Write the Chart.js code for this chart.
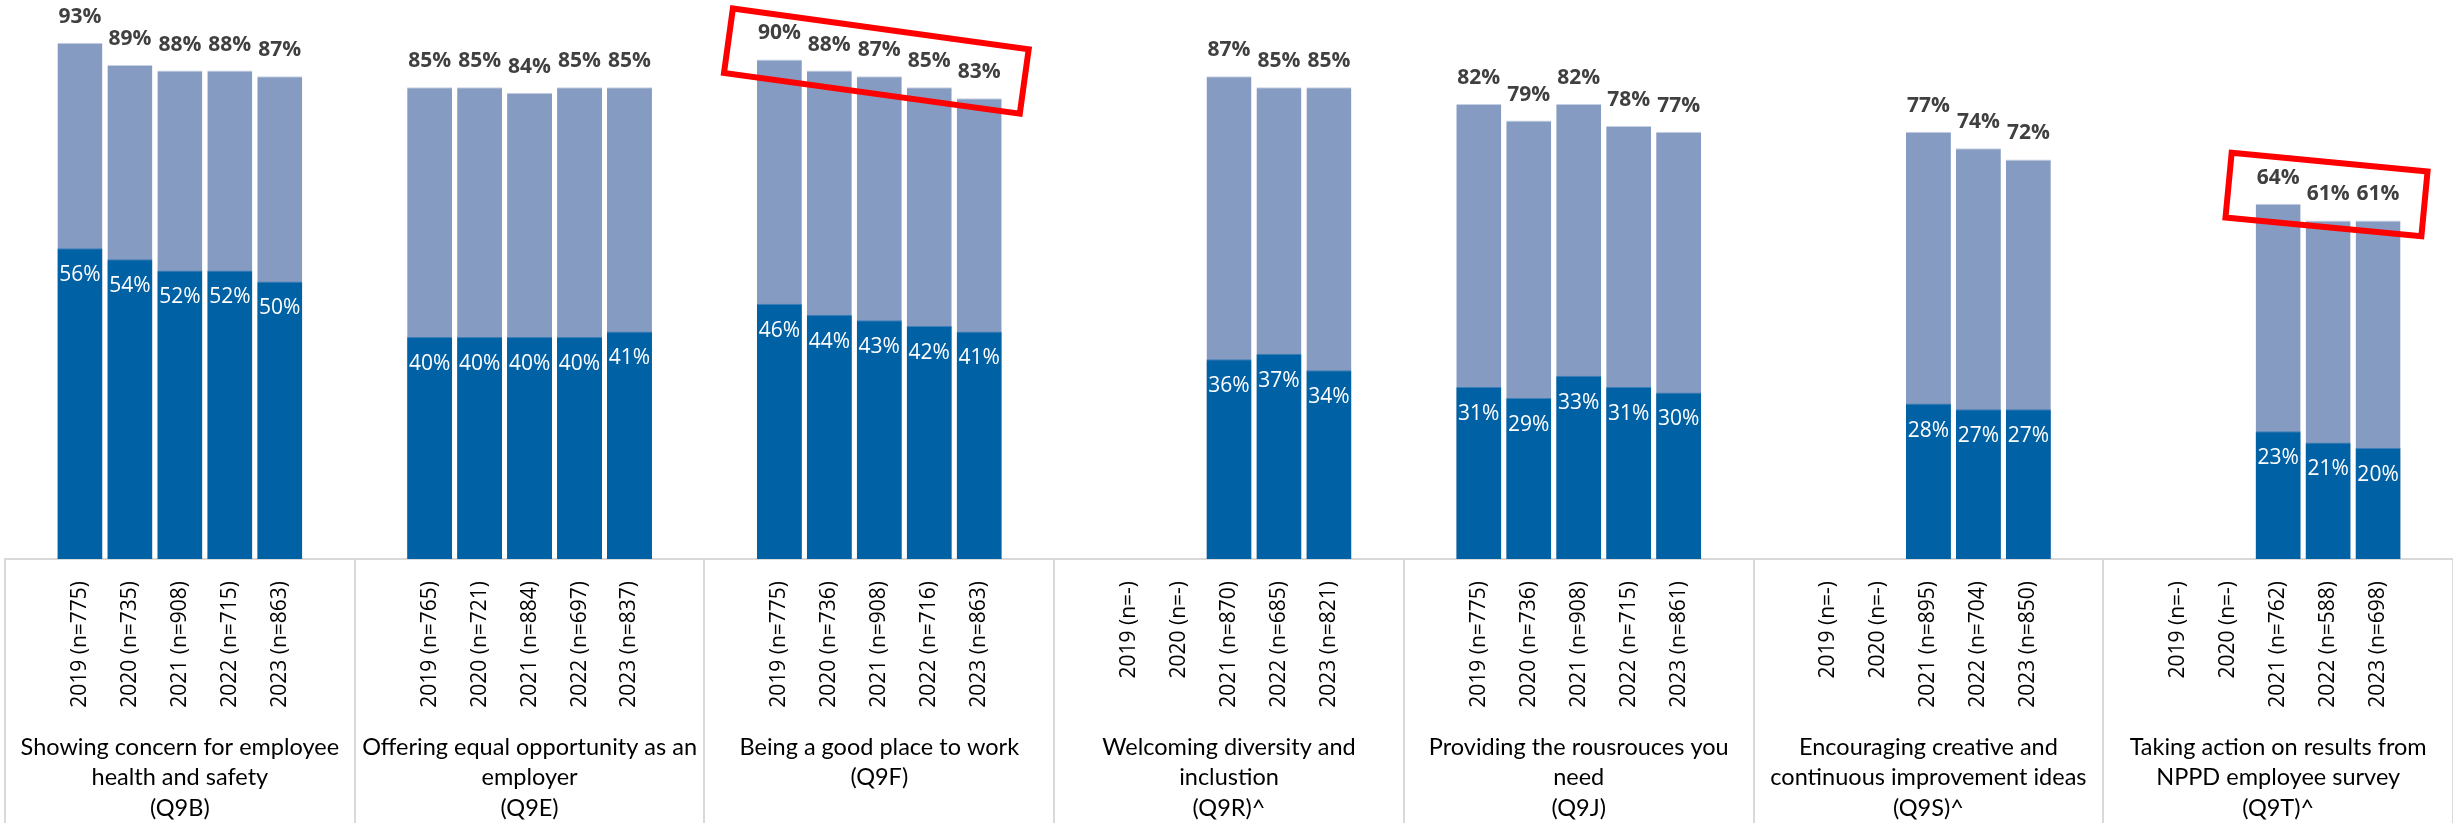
<!DOCTYPE html>
<html>
<head>
<meta charset="utf-8">
<script src="https://cdn.jsdelivr.net/npm/chart.js@4"></script>
<style>
  body { margin: 0; background: #fff; overflow: hidden; }
  #wrap { width: 2453px; height: 823px; }
</style>
</head>
<body>
<div id="wrap"><canvas id="agreeChart"></canvas></div>
<script>
// groups (categories) and their wrapped labels
const groupLabels = [
    ['Showing concern for employee', 'health and safety', '(Q9B)'],
    ['Offering equal opportunity as an', 'employer', '(Q9E)'],
    ['Being a good place to work', '(Q9F)'],
    ['Welcoming diversity and', 'inclustion', '(Q9R)^'],
    ['Providing the rousrouces you', 'need', '(Q9J)'],
    ['Encouraging creative and', 'continuous improvement ideas', '(Q9S)^'],
    ['Taking action on results from', 'NPPD employee survey', '(Q9T)^']
];
const years = ['2019', '2020', '2021', '2022', '2023'];
const sampleSizes = [
    [775, 735, 908, 715, 863],
    [765, 721, 884, 697, 837],
    [775, 736, 908, 716, 863],
    ['-', '-', 870, 685, 821],
    [775, 736, 908, 715, 861],
    ['-', '-', 895, 704, 850],
    ['-', '-', 762, 588, 698]
];
// total agree (light bar) and strongly agree (dark bar), in %
const totalAgree = [
    [93, 89, 88, 88, 87],
    [85, 85, 84, 85, 85],
    [90, 88, 87, 85, 83],
    [null, null, 87, 85, 85],
    [82, 79, 82, 78, 77],
    [null, null, 77, 74, 72],
    [null, null, 64, 61, 61]
];
const stronglyAgree = [
    [56, 54, 52, 52, 50],
    [40, 40, 40, 40, 41],
    [46, 44, 43, 42, 41],
    [null, null, 36, 37, 34],
    [31, 29, 33, 31, 30],
    [null, null, 28, 27, 27],
    [null, null, 23, 21, 20]
];
// groups highlighted with a red box
const highlighted = [2, 6];

const SLOTS = 7; // blank + 5 years + blank
const labels = [], lightData = [], darkData = [];
groupLabels.forEach((g, gi) => {
    labels.push(''); lightData.push(null); darkData.push(null);
    years.forEach((y, yi) => {
        labels.push(`${y} (n=${sampleSizes[gi][yi]})`);
        lightData.push(totalAgree[gi][yi]);
        darkData.push(stronglyAgree[gi][yi]);
    });
    labels.push(''); lightData.push(null); darkData.push(null);
});

const DARK = '#0061A5';
const LIGHT = '#869BC1';
const FONT = "'Open Sans', sans-serif";

// percentage labels, group labels, separators, red boxes
const decorations = {
    id: 'decorations',
    afterDatasetsDraw(chart) {
        const ctx = chart.ctx;
        const darkMeta = chart.getDatasetMeta(0);
        const lightMeta = chart.getDatasetMeta(1);
        ctx.save();
        ctx.textAlign = 'center';
        ctx.textBaseline = 'middle';
        darkMeta.data.forEach((bar, i) => {
            if (darkData[i] == null) return;
            ctx.font = `21px ${FONT}`;
            ctx.fillStyle = '#fff';
            ctx.fillText(darkData[i] + '%', bar.x, bar.y + 27);
        });
        lightMeta.data.forEach((bar, i) => {
            if (lightData[i] == null) return;
            ctx.font = `bold 21px ${FONT}`;
            ctx.fillStyle = '#404040';
            ctx.fillText(lightData[i] + '%', bar.x, bar.y - 26);
        });
        ctx.restore();
    },
    afterDraw(chart) {
        const ctx = chart.ctx;
        const area = chart.chartArea;
        const slotW = (area.right - area.left) / labels.length;
        ctx.save();
        // group separators in the label area
        ctx.strokeStyle = '#d9d9d9';
        ctx.lineWidth = 2;
        for (let g = 0; g <= groupLabels.length; g++) {
            const x = Math.round(area.left + g * SLOTS * slotW);
            ctx.beginPath();
            ctx.moveTo(x, area.bottom);
            ctx.lineTo(x, chart.height);
            ctx.stroke();
        }
        // group names
        ctx.fillStyle = '#000';
        ctx.font = "23.5px Lato, sans-serif";
        ctx.textAlign = 'center';
        ctx.textBaseline = 'middle';
        groupLabels.forEach((lines, g) => {
            const cx = area.left + (g + 0.5) * SLOTS * slotW;
            lines.forEach((t, li) => ctx.fillText(t, cx, 747 + li * 30.5));
        });
        // red highlight boxes around the trend labels
        const lightMeta = chart.getDatasetMeta(1);
        ctx.strokeStyle = '#ff0000';
        ctx.lineWidth = 6;
        ctx.lineJoin = 'miter';
        highlighted.forEach(g => {
            const idx = [];
            for (let k = 1; k <= 5; k++) {
                const i = g * SLOTS + k;
                if (lightData[i] != null) idx.push(i);
            }
            const first = lightMeta.data[idx[0]];
            const last = lightMeta.data[idx[idx.length - 1]];
            const ax = first.x - first.width / 2 - 24, ay = first.y - 51;
            const bx = last.x + last.width / 2 + 27, by = last.y - 49;
            const len = Math.hypot(bx - ax, by - ay);
            const dx = (bx - ax) / len, dy = (by - ay) / len;
            const h = 65;
            const nx = -dy * h, ny = dx * h;
            ctx.beginPath();
            ctx.moveTo(ax, ay);
            ctx.lineTo(bx, by);
            ctx.lineTo(bx + nx, by + ny);
            ctx.lineTo(ax + nx, ay + ny);
            ctx.closePath();
            ctx.stroke();
        });
        ctx.restore();
    }
};

new Chart(document.getElementById('agreeChart'), {
    type: 'bar',
    data: {
        labels: labels,
        datasets: [{
            label: 'Strongly agree',
            data: darkData,
            backgroundColor: DARK,
            borderColor: '#3f7fb8',
            borderWidth: { top: 1, left: 0, right: 0, bottom: 0 },
            borderSkipped: false,
            barPercentage: 0.9,
            categoryPercentage: 1
        }, {
            label: 'Agree (total)',
            data: lightData,
            backgroundColor: LIGHT,
            borderColor: '#c5d0e4',
            borderWidth: { top: 1, left: 0, right: 0, bottom: 0 },
            borderSkipped: false,
            barPercentage: 0.9,
            categoryPercentage: 1
        }]
    },
    options: {
        responsive: true,
        maintainAspectRatio: false,
        animation: false,
        layout: { padding: { left: 5, top: 4, right: 0, bottom: 0 } },
        plugins: {
            legend: { display: false },
            tooltip: { enabled: false }
        },
        scales: {
            x: {
                stacked: true,
                grid: { display: false, drawTicks: false },
                border: { display: true, color: '#d9d9d9', width: 2 },
                ticks: {
                    autoSkip: false,
                    minRotation: 90,
                    maxRotation: 90,
                    padding: 22,
                    color: '#000',
                    font: { family: 'Open Sans', size: 21 }
                },
                afterFit(scale) {
                    scale.height = 264;
                    scale.paddingLeft = 0;
                    scale.paddingRight = 0;
                }
            },
            y: {
                stacked: false,
                display: false,
                min: 0,
                max: 100
            }
        }
    },
    plugins: [decorations]
});
</script>
</body>
</html>
